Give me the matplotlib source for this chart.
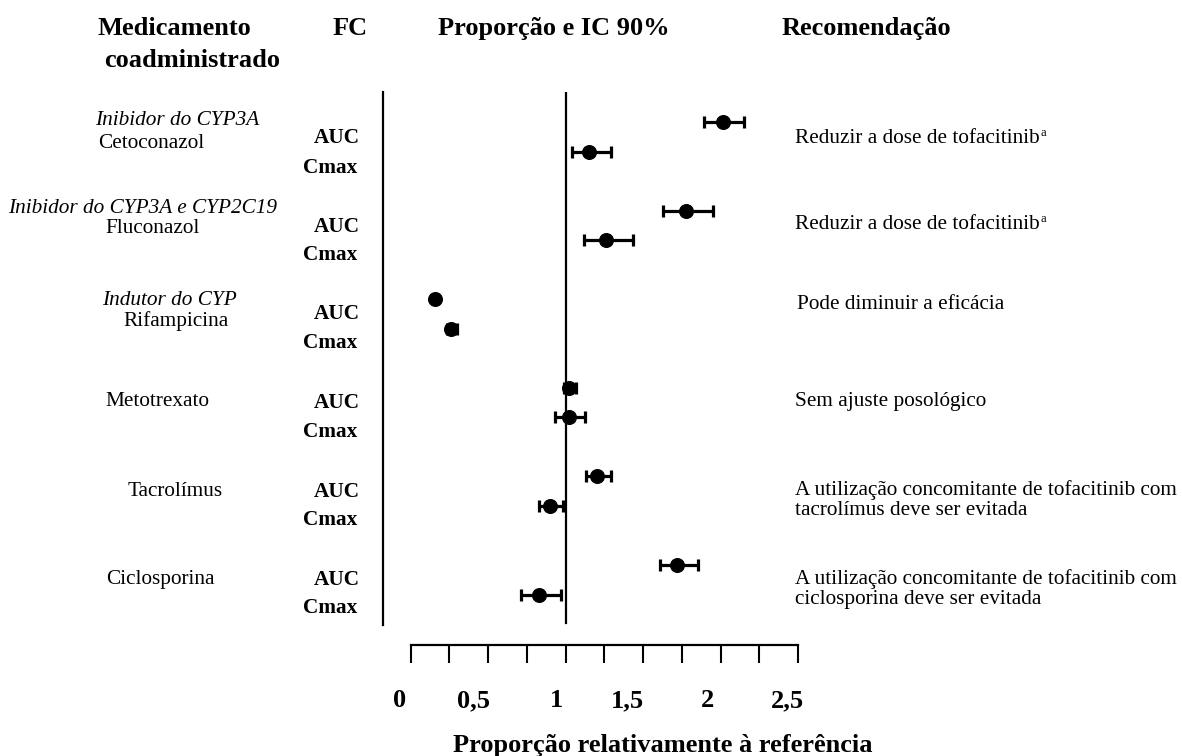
import matplotlib
matplotlib.use("Agg")
import matplotlib.pyplot as plt
import numpy as np

# ---------------- data ----------------
drugs = ['Cetoconazol', 'Fluconazol', 'Rifampicina', 'Metotrexato', 'Tacrolímus', 'Ciclosporina']
drug_classes = ['Inibidor do CYP3A', 'Inibidor do CYP3A e CYP2C19', 'Indutor do CYP', '', '', '']
auc = [2.016, 1.777, 0.158, 1.023, 1.203, 1.719]
auc_lo = [1.894, 1.629, 0.148, 0.990, 1.132, 1.610]
auc_hi = [2.152, 1.952, 0.170, 1.065, 1.294, 1.855]
cmax = [1.152, 1.261, 0.261, 1.023, 0.900, 0.829]
cmax_lo = [1.042, 1.119, 0.235, 0.932, 0.829, 0.713]
cmax_hi = [1.294, 1.435, 0.300, 1.126, 0.984, 0.971]
recommendations = ['Reduzir a dose de tofacitinib', 'Reduzir a dose de tofacitinib',
                   'Pode diminuir a eficácia', 'Sem ajuste posológico',
                   'A utilização concomitante de tofacitinib com\ntacrolímus deve ser evitada',
                   'A utilização concomitante de tofacitinib com\nciclosporina deve ser evitada']
rec_footnote = ['a', 'a', '', '', '', '']
tick_positions = [0, 0.25, 0.5, 0.75, 1.0, 1.25, 1.5, 1.75, 2.0, 2.25, 2.5]
tick_labels = ['0', '0,5', '1', '1,5', '2', '2,5']
pk_labels = ['AUC', 'Cmax']

# ---------------- layout ----------------
W, H = 1182, 756
FONT = 'Liberation Serif'
fig = plt.figure(figsize=(W / 100, H / 100), dpi=100)
fig.patch.set_facecolor('white')

def fx(x):
    return x / W

def fy(y):
    return 1 - y / H

def ptext(x, y, s, **kw):
    kw.setdefault('fontfamily', FONT)
    kw.setdefault('va', 'baseline')
    return fig.text(fx(x), fy(y), s, **kw)

# main forest axes
x0_pix, scale = 410.5, 155.0
ax_left, ax_right, ax_top, ax_bot = 383, 798, 92, 625
row0_pix, row_step = 122.0, 88.6
ax = fig.add_axes([fx(ax_left), fy(ax_bot), (ax_right - ax_left) / W, (ax_bot - ax_top) / H])
ax.set_xlim((ax_left - x0_pix) / scale, (ax_right - x0_pix) / scale)
ax.set_ylim((ax_bot - row0_pix) / row_step, (ax_top - row0_pix) / row_step)
for s in ['top', 'right', 'bottom']:
    ax.spines[s].set_visible(False)
ax.spines['left'].set_linewidth(1.6)
ax.set_xticks([])
ax.set_yticks([])
ax.patch.set_alpha(0)
ax.axvline(1.0, color='black', lw=1.6, ymin=0.004, ymax=1.0)

n = len(drugs)
y_auc = np.arange(n, dtype=float)
y_cmax = y_auc + 0.333
auc_a = np.array(auc); cmax_a = np.array(cmax)
ekw = dict(fmt='o', color='black', ms=9.8, elinewidth=2.3, capsize=4.4, capthick=2.3, zorder=3)
ax.errorbar(auc_a, y_auc, xerr=[auc_a - np.array(auc_lo), np.array(auc_hi) - auc_a], **ekw)
ax.errorbar(cmax_a, y_cmax, xerr=[cmax_a - np.array(cmax_lo), np.array(cmax_hi) - cmax_a], **ekw)

# bottom scale axis
ax2 = fig.add_axes([fx(ax_left), fy(645), (ax_right - ax_left) / W, 1 / H])
ax2.set_xlim(ax.get_xlim())
for s in ['top', 'right', 'left']:
    ax2.spines[s].set_visible(False)
ax2.spines['bottom'].set_bounds(0, 2.5)
ax2.spines['bottom'].set_linewidth(1.6)
ax2.set_xticks(tick_positions)
ax2.tick_params(axis='x', direction='out', length=13, width=1.5, labelbottom=False)
ax2.set_yticks([])
ax2.patch.set_alpha(0)

tick_label_x = [400, 474, 556, 627, 707, 787]
for xp, lab in zip(tick_label_x, tick_labels):
    ptext(xp, 707, lab, fontsize=19, fontweight='bold', ha='center')
ptext(453, 752, 'Proporção relativamente à referência', fontsize=19, fontweight='bold', ha='left')

# headers
hk = dict(fontsize=19, fontweight='bold')
ptext(97, 35, 'Medicamento', **hk)
ptext(104, 67, 'coadministrado', **hk)
ptext(333, 35, 'FC', **hk)
ptext(438, 35, 'Proporção e IC 90%', **hk)
ptext(782, 35, 'Recomendação', **hk)

# left column
class_pos = [(95, 125), (8, 213), (102, 305)]
drug_pos = [(98, 148), (105, 233), (123, 326), (105, 406), (128, 496), (106, 584)]
for i in range(n):
    if drug_classes[i]:
        cx, cy = class_pos[i]
        ptext(cx, cy, drug_classes[i], fontsize=15.3, fontstyle='italic')
    dx, dy = drug_pos[i]
    ptext(dx, dy, drugs[i], fontsize=15.3)

# FC column
auc_base = [143, 232, 319, 408, 497, 585]
cmax_base = [173, 260, 348, 437, 525, 613]
for i in range(n):
    ptext(360, auc_base[i], pk_labels[0], fontsize=15.3, fontweight='bold', ha='right')
    ptext(357, cmax_base[i], pk_labels[1], fontsize=15.3, fontweight='bold', ha='right')

# recommendations
renderer = fig.canvas.get_renderer()
rec_pos = [(795, 143), (795, 229), (797, 309), (795, 406), (795, 495), (795, 584)]
for i in range(n):
    rx, ry = rec_pos[i]
    lines = recommendations[i].split('\n')
    t = None
    for j, line in enumerate(lines):
        t = ptext(rx, ry + j * 20, line, fontsize=15.3) if j == 0 else ptext(rx, ry + j * 20, line, fontsize=15.3)
        if j == 0:
            first = t
    if rec_footnote[i]:
        bb = first.get_window_extent(renderer)
        ptext(bb.x1 + 1, ry - 7, rec_footnote[i], fontsize=9)

fig.savefig('out.png', dpi=100, facecolor='white')
